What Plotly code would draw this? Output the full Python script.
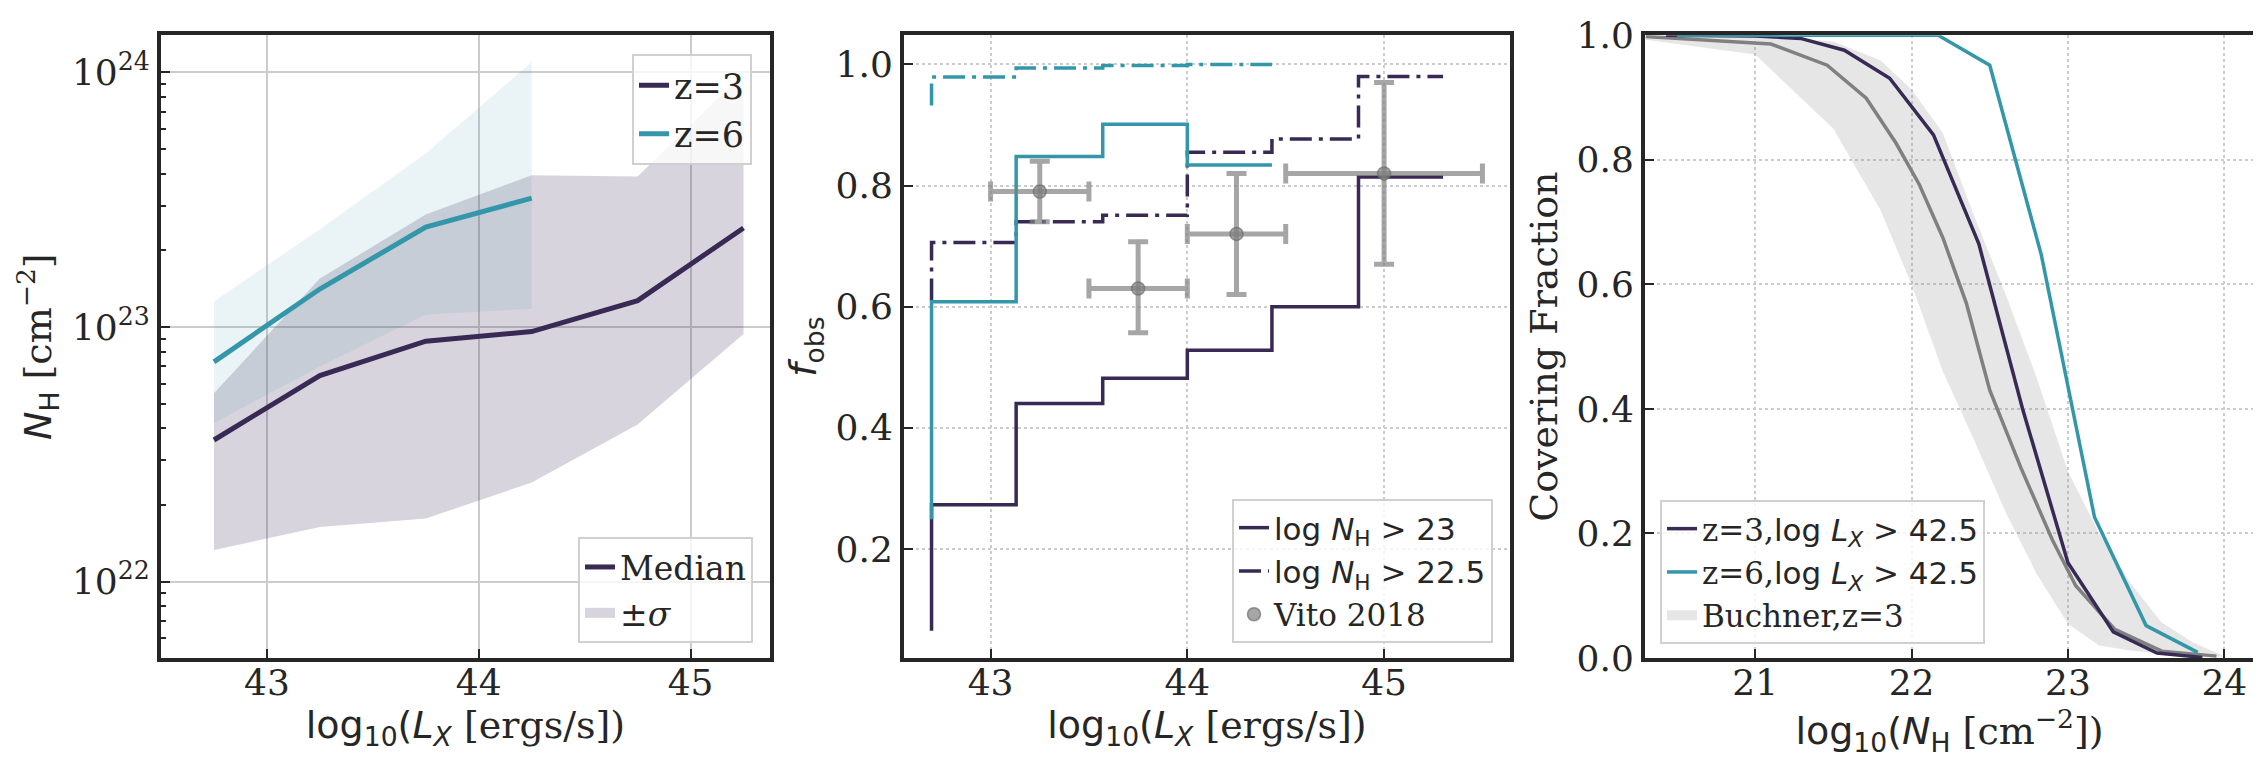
import plotly.graph_objects as go

# ---- panel 1: median N_H vs L_X ----
lx_z3 = [42.75, 43.25, 43.75, 44.25, 44.75, 45.25]
nh_z3_med = [3.6e22, 6.45e22, 8.8e22, 9.6e22, 1.27e23, 2.45e23]
nh_z3_lo = [1.33e22, 1.64e22, 1.77e22, 2.45e22, 4.14e22, 9.4e22]
nh_z3_hi = [5.5e22, 1.55e23, 2.77e23, 3.95e23, 3.9e23, 9.9e23]

lx_z6 = [42.75, 43.25, 43.75, 44.25]
nh_z6_med = [7.3e22, 1.41e23, 2.47e23, 3.21e23]
nh_z6_lo = [4.2e22, 7.0e22, 1.12e23, 1.18e23]
nh_z6_hi = [1.26e23, 2.42e23, 4.8e23, 1.1e24]

# ---- panel 2: obscured fraction ----
edges_z3 = [42.7, 43.13, 43.57, 44.0, 44.43, 44.87, 45.3]
fobs_z3_23 = [0.065, 0.273, 0.44, 0.482, 0.528, 0.60, 0.814]
fobs_z3_225 = [0.61, 0.706, 0.74, 0.751, 0.855, 0.877, 0.98]
edges_z6 = [42.7, 43.13, 43.57, 44.0, 44.43]
fobs_z6_23 = [0.249, 0.608, 0.848, 0.901, 0.834]
fobs_z6_225 = [0.932, 0.979, 0.994, 0.998, 1.0]

vito_x = [43.25, 43.75, 44.25, 45.0]
vito_xerr = [0.25, 0.25, 0.25, 0.5]
vito_y = [0.79, 0.63, 0.72, 0.82]
vito_yerr_up = [0.05, 0.077, 0.10, 0.15]
vito_yerr_dn = [0.05, 0.073, 0.10, 0.15]

# ---- panel 3: covering fraction ----
nh_cf_z3 = [20.43, 20.71, 21.0, 21.29, 21.57, 21.86, 22.14, 22.43, 22.71, 23.0, 23.29, 23.57, 23.86]
cf_z3 = [1.0, 1.0, 0.999, 0.995, 0.976, 0.931, 0.84, 0.665, 0.40, 0.153, 0.042, 0.008, 0.001]
nh_cf_z6 = [20.5, 20.83, 21.17, 21.5, 21.83, 22.17, 22.5, 22.83, 23.17, 23.5, 23.83]
cf_z6 = [1.0, 1.0, 1.0, 1.0, 1.0, 1.0, 0.952, 0.647, 0.226, 0.052, 0.009]

nh_buch = [20.3, 21.1, 21.46, 21.71, 21.9, 22.05, 22.2, 22.35, 22.5, 22.7, 22.9, 23.05, 23.3, 23.6, 23.95]
cf_buch = [0.998, 0.986, 0.952, 0.899, 0.827, 0.76, 0.675, 0.57, 0.43, 0.305, 0.19, 0.116, 0.046, 0.011, 0.003]
nh_band = [20.3, 21.0, 21.5, 21.8, 22.0, 22.2, 22.4, 22.6, 22.8, 23.0, 23.2, 23.4, 23.6, 23.8, 24.0]
cf_band_lo = [0.993, 0.969, 0.85, 0.72, 0.60, 0.46, 0.35, 0.235, 0.135, 0.055, 0.02, 0.012, 0.007, 0.004, 0.002]
cf_band_hi = [1.0, 1.0, 0.99, 0.96, 0.913, 0.843, 0.71, 0.585, 0.45, 0.30, 0.20, 0.12, 0.057, 0.025, 0.003]

PURPLE = '#382A54'
TEAL = '#3497A9'
SERIF = 'DejaVu Serif'
SANS = 'DejaVu Sans'
INK = '#262626'


def sans(t):
    return f'<span style="font-family:{SANS}">{t}</span>'


fig = go.Figure()

# panel 1 bands + medians
fig.add_trace(go.Scatter(x=lx_z3, y=nh_z3_lo, mode='lines', line=dict(width=0),
                         showlegend=False, hoverinfo='skip', xaxis='x', yaxis='y'))
fig.add_trace(go.Scatter(x=lx_z3, y=nh_z3_hi, mode='lines', line=dict(width=0),
                         fill='tonexty', fillcolor='rgba(56,42,84,0.2)',
                         showlegend=False, xaxis='x', yaxis='y'))
fig.add_trace(go.Scatter(x=lx_z6, y=nh_z6_lo, mode='lines', line=dict(width=0),
                         showlegend=False, hoverinfo='skip', xaxis='x', yaxis='y'))
fig.add_trace(go.Scatter(x=lx_z6, y=nh_z6_hi, mode='lines', line=dict(width=0),
                         fill='tonexty', fillcolor='rgba(52,151,169,0.1)',
                         showlegend=False, xaxis='x', yaxis='y'))
fig.add_trace(go.Scatter(x=lx_z3, y=nh_z3_med, mode='lines', name='z=3',
                         line=dict(color=PURPLE, width=5), legend='legend', xaxis='x', yaxis='y'))
fig.add_trace(go.Scatter(x=lx_z6, y=nh_z6_med, mode='lines', name='z=6',
                         line=dict(color=TEAL, width=5), legend='legend', xaxis='x', yaxis='y'))
# legend-only entries for the lower-right box
fig.add_trace(go.Scatter(x=[None], y=[None], mode='lines', name='Median',
                         line=dict(color=PURPLE, width=5), legend='legend2', xaxis='x', yaxis='y'))
fig.add_trace(go.Scatter(x=[None], y=[None], mode='lines', name='±<i>σ</i>',
                         line=dict(color='rgba(56,42,84,0.2)', width=14), legend='legend2',
                         xaxis='x', yaxis='y'))

# panel 2 steps
DASHDOT = '22px,7px,4px,7px'
fig.add_trace(go.Scatter(x=edges_z3, y=fobs_z3_23, mode='lines', line_shape='vh',
                         line=dict(color=PURPLE, width=3.5),
                         name=sans('log <i>N</i><sub>H</sub> > 23'), legend='legend3',
                         xaxis='x2', yaxis='y2'))
fig.add_trace(go.Scatter(x=edges_z3, y=fobs_z3_225, mode='lines', line_shape='vh',
                         line=dict(color=PURPLE, width=3.5, dash=DASHDOT),
                         name=sans('log <i>N</i><sub>H</sub> > 22.5'), legend='legend3',
                         xaxis='x2', yaxis='y2'))
fig.add_trace(go.Scatter(x=edges_z6, y=fobs_z6_23, mode='lines', line_shape='vh',
                         line=dict(color=TEAL, width=3.5), showlegend=False,
                         xaxis='x2', yaxis='y2'))
fig.add_trace(go.Scatter(x=edges_z6, y=fobs_z6_225, mode='lines', line_shape='vh',
                         line=dict(color=TEAL, width=3.5, dash=DASHDOT), showlegend=False,
                         xaxis='x2', yaxis='y2'))
fig.add_trace(go.Scatter(
    x=vito_x, y=vito_y, mode='markers', name='Vito 2018', legend='legend3',
    marker=dict(color='rgba(128,128,128,0.7)', size=13,
                line=dict(color='rgba(110,110,110,0.7)', width=1.5)),
    error_x=dict(type='data', array=vito_xerr, color='rgba(128,128,128,0.7)', thickness=5, width=10),
    error_y=dict(type='data', array=vito_yerr_up, arrayminus=vito_yerr_dn,
                 color='rgba(128,128,128,0.7)', thickness=5, width=10),
    xaxis='x2', yaxis='y2'))

# panel 3
fig.add_trace(go.Scatter(x=nh_band, y=cf_band_lo, mode='lines', line=dict(width=0),
                         showlegend=False, hoverinfo='skip', xaxis='x3', yaxis='y3'))
fig.add_trace(go.Scatter(x=nh_band, y=cf_band_hi, mode='lines', line=dict(width=0),
                         fill='tonexty', fillcolor='rgba(128,128,128,0.2)',
                         showlegend=False, xaxis='x3', yaxis='y3'))
fig.add_trace(go.Scatter(x=nh_buch, y=cf_buch, mode='lines', line=dict(color='gray', width=3.5),
                         showlegend=False, xaxis='x3', yaxis='y3'))
fig.add_trace(go.Scatter(x=nh_cf_z3, y=cf_z3, mode='lines', line=dict(color=PURPLE, width=3.5),
                         name='z=3,' + sans('log <i>L<sub>X</sub></i> > 42.5'), legend='legend4',
                         xaxis='x3', yaxis='y3'))
fig.add_trace(go.Scatter(x=nh_cf_z6, y=cf_z6, mode='lines', line=dict(color=TEAL, width=3.5),
                         name='z=6,' + sans('log <i>L<sub>X</sub></i> > 42.5'), legend='legend4',
                         xaxis='x3', yaxis='y3'))
fig.add_trace(go.Scatter(x=[None], y=[None], mode='lines', name='Buchner,z=3',
                         line=dict(color='rgba(128,128,128,0.2)', width=14), legend='legend4',
                         xaxis='x3', yaxis='y3'))

W, H = 2261, 763
TICKFONT = dict(family=SERIF, size=36, color=INK)
TITLEFONT = dict(family=SERIF, size=38, color=INK)
axis_common = dict(showline=True, mirror=True, linecolor=INK, linewidth=4,
                   ticks='inside', ticklen=9, tickwidth=2, tickcolor=INK,
                   tickfont=TICKFONT, zeroline=False, automargin=False)
grid_solid = dict(showgrid=True, gridcolor='#cccccc', gridwidth=2)
grid_dot = dict(showgrid=True, gridcolor='#cccccc', gridwidth=1.5, griddash='dot')

# minor log ticks at 2..9 times each decade (positions only)
minor_log = [m * 10.0 ** e for e in (21, 22, 23) for m in range(2, 10)]

ydom = [1 - 650 / H, 1 - 27.3 / H]
lx_title = sans('log<sub>10</sub>(<i>L<sub>X</sub></i> ') + '[ergs/s])'

legend_common = dict(bgcolor='rgba(255,255,255,0.8)', bordercolor='#d0d0d0', borderwidth=2,
                     traceorder='normal')

fig.update_layout(
    width=W, height=H,
    margin=dict(l=0, r=0, t=0, b=0),
    paper_bgcolor='white', plot_bgcolor='white',
    font=dict(family=SERIF, color=INK),
    xaxis=dict(domain=[153 / W, 762 / W], range=[42.5, 45.375], dtick=1, anchor='y',
               ticklabelstandoff=-10,
               title=dict(text=lx_title, font=TITLEFONT, standoff=2), **axis_common, **grid_solid),
    yaxis=dict(domain=ydom, type='log', range=[21.7, 24.146], anchor='x',
               tickvals=[1e22, 1e23, 1e24],
               ticktext=['10<sup>22</sup>', '10<sup>23</sup>', '10<sup>24</sup>'],
               minor=dict(tickmode='array', tickvals=minor_log, ticks='inside', ticklen=5,
                          tickwidth=1.5, tickcolor=INK, showgrid=False),
               title=dict(text=sans('<i>N</i><sub>H</sub> ') + '[cm<sup>−2</sup>]', font=TITLEFONT, standoff=10),
               **axis_common, **grid_solid),
    xaxis2=dict(domain=[896 / W, 1502 / W], range=[42.56, 45.64], dtick=1, anchor='y2',
                ticklabelstandoff=-10,
                title=dict(text=lx_title, font=TITLEFONT, standoff=2), **axis_common, **grid_dot),
    yaxis2=dict(domain=ydom, range=[0.02, 1.048], tickvals=[0.2, 0.4, 0.6, 0.8, 1.0],
                tickformat='.1f', anchor='x2',
                title=dict(text=sans('<i>f</i><sub>obs</sub>'), font=TITLEFONT, standoff=8),
                **axis_common, **grid_dot),
    xaxis3=dict(domain=[1637 / W, 2246 / W], range=[20.295, 24.19], dtick=1, anchor='y3',
                ticklabelstandoff=-10,
                title=dict(text=sans('log<sub>10</sub>(<i>N</i><sub>H</sub> ') + '[cm<sup>−2</sup>])',
                           font=TITLEFONT, standoff=2),
                **axis_common, **grid_dot),
    yaxis3=dict(domain=ydom, range=[0, 1.0], dtick=0.2, tickformat='.1f', anchor='x3',
                title=dict(text='Covering Fraction', font=TITLEFONT, standoff=8),
                **axis_common, **grid_dot),
    legend=dict(x=744 / W, xanchor='right', y=1 - 46 / H, yanchor='top',
                font=dict(family=SERIF, size=35, color=INK), **legend_common),
    legend2=dict(x=745 / W, xanchor='right', y=1 - 635 / H, yanchor='bottom',
                 font=dict(family=SERIF, size=33, color=INK), **legend_common),
    legend3=dict(x=1485 / W, xanchor='right', y=1 - 635 / H, yanchor='bottom',
                 font=dict(family=SERIF, size=31, color=INK), **legend_common),
    legend4=dict(x=1652 / W, xanchor='left', y=1 - 636 / H, yanchor='bottom',
                 font=dict(family=SERIF, size=31, color=INK), **legend_common),
)

fig.write_html("out.html")
